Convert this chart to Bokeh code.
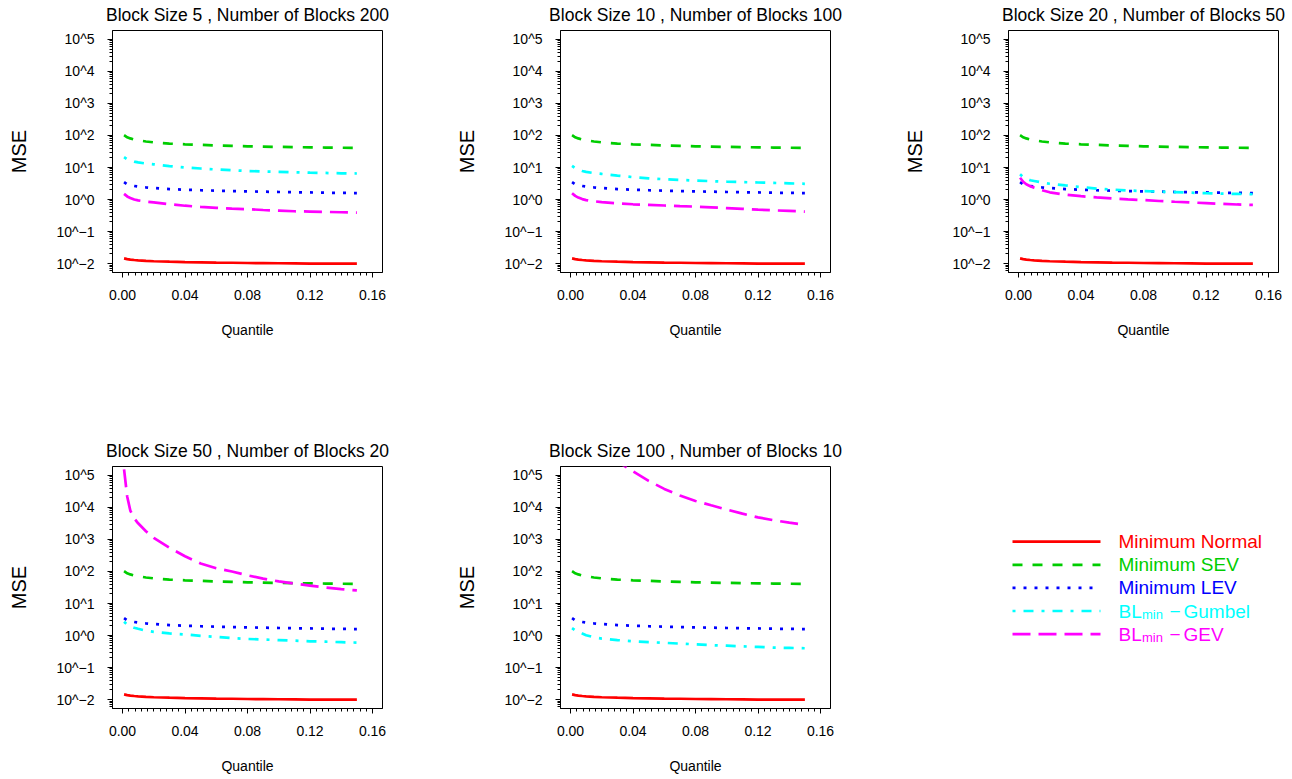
from bokeh.plotting import figure
from bokeh.layouts import column, row
from bokeh.models import Range1d, FixedTicker, CustomJSTickFormatter, NumeralTickFormatter
from bokeh.embed import file_html
from bokeh.resources import INLINE
from bokeh.core.properties import value

# ---------------- data ----------------
quantile = [0.001, 0.003, 0.005, 0.0075, 0.01, 0.015, 0.02, 0.03, 0.04, 0.05,
            0.06, 0.07, 0.08, 0.09, 0.10, 0.11, 0.12, 0.13, 0.14, 0.15]

normal_mse = [0.0145, 0.0138, 0.0133, 0.0129, 0.0126, 0.0121, 0.0118, 0.0114, 0.0111, 0.0109,
              0.0107, 0.0106, 0.0104, 0.0103, 0.0102, 0.0101, 0.0100, 0.0100, 0.0099, 0.0099]
sev_mse = [102, 88, 81, 75, 71, 65, 61, 56, 53, 51,
           49, 47.5, 46, 45, 44, 43.3, 42.6, 42, 41.5, 41]
lev_mse = [3.5, 3.0, 2.8, 2.65, 2.55, 2.4, 2.28, 2.12, 2.02, 1.95,
           1.89, 1.84, 1.8, 1.76, 1.72, 1.69, 1.66, 1.63, 1.61, 1.59]

gumbel_bs5 = [21, 18, 16.5, 15.3, 14.4, 13.3, 12.6, 11.1, 10.0, 9.3,
              8.7, 8.2, 7.8, 7.5, 7.3, 7.1, 6.9, 6.75, 6.6, 6.5]
gumbel_bs10 = [11.2, 9.5, 8.6, 7.8, 7.3, 6.7, 6.3, 5.6, 5.0, 4.6,
               4.3, 4.1, 3.9, 3.75, 3.6, 3.5, 3.4, 3.3, 3.2, 3.1]
gumbel_bs20 = [6.2, 5.0, 4.5, 4.0, 3.8, 3.4, 3.1, 2.75, 2.45, 2.2,
               2.05, 1.92, 1.84, 1.76, 1.7, 1.64, 1.58, 1.53, 1.5, 1.46]
gumbel_bs50 = [2.7, 2.2, 1.95, 1.75, 1.62, 1.42, 1.3, 1.16, 1.08, 0.98,
               0.9, 0.83, 0.78, 0.75, 0.72, 0.69, 0.66, 0.64, 0.62, 0.6]
gumbel_bs100 = [1.7, 1.45, 1.3, 1.15, 1.02, 0.88, 0.8, 0.72, 0.66, 0.62,
                0.59, 0.56, 0.53, 0.5, 0.48, 0.46, 0.44, 0.42, 0.41, 0.4]

gev_bs5 = [1.5, 1.25, 1.12, 1.0, 0.94, 0.86, 0.81, 0.71, 0.64, 0.59,
           0.55, 0.52, 0.5, 0.47, 0.45, 0.43, 0.42, 0.41, 0.4, 0.39]
gev_bs10 = [1.58, 1.3, 1.15, 1.03, 0.96, 0.88, 0.83, 0.76, 0.71, 0.68,
            0.65, 0.62, 0.6, 0.57, 0.54, 0.51, 0.48, 0.46, 0.44, 0.42]
gev_bs20 = [4.8, 3.6, 3.0, 2.6, 2.35, 1.95, 1.68, 1.42, 1.27, 1.16,
            1.08, 1.01, 0.96, 0.9, 0.85, 0.81, 0.77, 0.73, 0.7, 0.68]
gev_bs50 = [155000, 22000, 8000, 4600, 3200, 1800, 1120, 550, 300, 178,
            126, 100, 76, 60, 49, 42, 36, 31.6, 28, 25.7]
gev_bs100 = [4.0e6, 3.0e6, 2.3e6, 1.8e6, 1.4e6, 9.0e5, 6.0e5, 2.7e5, 1.35e5, 6.8e4,
             3.8e4, 2.35e4, 1.6e4, 1.17e4, 8.6e3, 6.4e3, 4.9e3, 4.0e3, 3.35e3, 2.9e3]

block_sizes = [5, 10, 20, 50, 100]
number_of_blocks = [200, 100, 50, 20, 10]
gumbel_series = [gumbel_bs5, gumbel_bs10, gumbel_bs20, gumbel_bs50, gumbel_bs100]
gev_series = [gev_bs5, gev_bs10, gev_bs20, gev_bs50, gev_bs100]

series_labels = ["Minimum Normal", "Minimum SEV", "Minimum LEV", "Gumbel", "GEV"]
x_tick_values = [0.0, 0.04, 0.08, 0.12, 0.16]
y_tick_exponents = [-2, -1, 0, 1, 2, 3, 4, 5]

# ---------------- styles ----------------
FONT = "Liberation Sans"
COLORS = ["#FF0000", "#00CD00", "#0000FF", "#00FFFF", "#FF00FF"]
DASHES = ["solid", "10 10", "3 8", "3 8 10 8", "18 8"]
LW = 2.7

FRAME_W, FRAME_H = 270, 243
TOP = 29
ROW1_H = 436
ROW2_H = 779 - ROW1_H
COL_W = [448, 448, 396]
RIGHT = [66, 66, 14]
LEFT = 112

y_major = [10.0 ** e for e in y_tick_exponents]
y_minor = [k * 10.0 ** e for e in range(-3, 6) for k in range(2, 10)]
x_minor = [i * 0.004 for i in range(0, 41)]

ylab_js = """
const e = Math.round(Math.log10(tick));
return "10^" + (e < 0 ? "\u2212" + String(-e) : String(e));
"""


def make_panel(i, width, height, bottom, right):
    p = figure(width=width, height=height,
               x_range=Range1d(-0.0064, 0.1664),
               y_range=Range1d(10 ** -2.28, 10 ** 5.28),
               y_axis_type="log",
               output_backend="svg", toolbar_location=None,
               min_border_left=LEFT, min_border_right=right,
               min_border_top=TOP, min_border_bottom=bottom,
               title=f"Block Size {block_sizes[i]} , Number of Blocks {number_of_blocks[i]}")
    p.title.text_font = FONT
    p.title.text_font_size = "17.5px"
    p.title.text_font_style = "normal"
    p.title.text_color = "black"
    p.title.align = "center"
    p.title.vertical_align = "top"
    p.title.standoff = 8
    p.xgrid.visible = False
    p.ygrid.visible = False
    p.outline_line_color = "black"
    p.outline_line_width = 1
    p.background_fill_color = "white"
    p.border_fill_color = "white"

    ys = [normal_mse, sev_mse, lev_mse, gumbel_series[i], gev_series[i]]
    for y, c, d in zip(ys, COLORS, DASHES):
        p.line(quantile, y, line_color=c, line_width=LW, line_dash=d)

    xa = p.xaxis[0]
    ya = p.yaxis[0]
    xa.ticker = FixedTicker(ticks=x_tick_values, minor_ticks=x_minor)
    xa.formatter = NumeralTickFormatter(format="0.00")
    ya.ticker = FixedTicker(ticks=y_major, minor_ticks=y_minor)
    ya.formatter = CustomJSTickFormatter(code=ylab_js)
    for ax in (xa, ya):
        ax.axis_line_color = "black"
        ax.major_tick_line_color = "black"
        ax.minor_tick_line_color = "black"
        ax.major_tick_in = 0
        ax.major_tick_out = 5
        ax.minor_tick_in = 0
        ax.minor_tick_out = 3
        ax.major_label_text_font = FONT
        ax.major_label_text_font_size = "14px"
        ax.major_label_text_color = "black"
        ax.axis_label_text_font = FONT
        ax.axis_label_text_font_style = "normal"
        ax.axis_label_text_color = "black"
    xa.axis_label = "Quantile"
    xa.axis_label_text_font_size = "14px"
    xa.major_label_standoff = 12
    xa.axis_label_standoff = 19
    ya.axis_label = "MSE"
    ya.axis_label_text_font_size = "20px"
    ya.major_label_standoff = 13
    ya.axis_label_standoff = 23
    return p


panels = []
for i in range(5):
    r, c = divmod(i, 3)
    h = ROW1_H if r == 0 else ROW2_H
    bottom = h - TOP - FRAME_H
    panels.append(make_panel(i, COL_W[c], h, bottom, RIGHT[c]))

# ---------------- legend panel (same frame geometry as a plot slot) ----------------
leg = figure(width=COL_W[2], height=ROW2_H,
             x_range=Range1d(0, FRAME_W), y_range=Range1d(FRAME_H, 0),
             output_backend="svg", toolbar_location=None,
             min_border_left=LEFT, min_border_right=RIGHT[2],
             min_border_top=TOP, min_border_bottom=ROW2_H - TOP - FRAME_H,
             x_axis_location=None, y_axis_location=None)
leg.outline_line_color = None
leg.xgrid.visible = False
leg.ygrid.visible = False

line_x0, line_x1, text_x = 4, 92, 110
row0, row_step = 75.5, 23.2
for k, (lab, c, d) in enumerate(zip(series_labels, COLORS, DASHES)):
    yc = row0 + k * row_step
    leg.line([line_x0, line_x1], [yc, yc], line_color=c, line_width=LW, line_dash=d)
    common = dict(text_color=c, text_font=value(FONT), text_baseline="middle", text_align="left")
    if k < 3:
        leg.text(x=[text_x], y=[yc], text=[lab], text_font_size="19px", **common)
    else:
        leg.text(x=[text_x], y=[yc], text=["BL"], text_font_size="19px", **common)
        leg.text(x=[text_x + 23.5], y=[yc + 3.6], text=["min"], text_font_size="13px", **common)
        leg.text(x=[text_x + 51], y=[yc], text=["\u2212"], text_font_size="19px", **common)
        leg.text(x=[text_x + 65], y=[yc], text=[lab], text_font_size="19px", **common)

layout = column(row(panels[0], panels[1], panels[2]), row(panels[3], panels[4], leg))
open("out.html", "w").write(file_html(layout, INLINE))
